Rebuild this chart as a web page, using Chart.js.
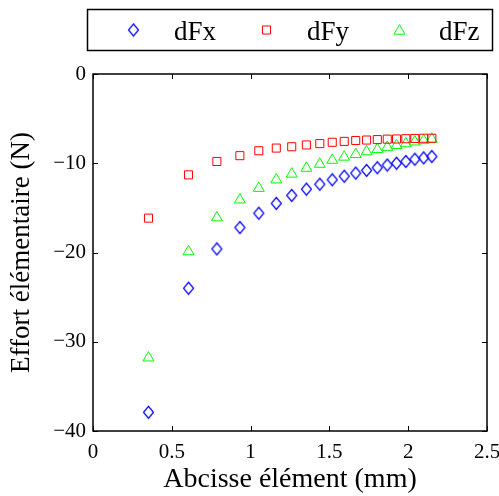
<!DOCTYPE html>
<html>
<head>
<meta charset="utf-8">
<script src="https://cdn.jsdelivr.net/npm/chart.js@4/dist/chart.umd.min.js"></script>
<style>
  html, body { margin: 0; padding: 0; background: #fff; }
  #wrap { position: relative; width: 499px; height: 496px; }
</style>
</head>
<body>
<div id="wrap"><canvas id="forceChart" width="499" height="496"></canvas></div>
<script>
// Data
const abscissa = [0.352, 0.606, 0.786, 0.932, 1.052, 1.163, 1.261, 1.354, 1.439, 1.518,
                  1.594, 1.667, 1.736, 1.804, 1.867, 1.926, 1.985, 2.042, 2.098, 2.150];
const dFx = [-37.9, -24.0, -19.6, -17.2, -15.6, -14.5, -13.6, -12.9, -12.35, -11.85,
             -11.45, -11.1, -10.8, -10.5, -10.2, -10.0, -9.8, -9.55, -9.4, -9.25];
const dFy = [-16.15, -11.3, -9.8, -9.15, -8.6, -8.3, -8.15, -7.95, -7.8, -7.65,
             -7.55, -7.45, -7.4, -7.35, -7.3, -7.28, -7.25, -7.22, -7.2, -7.2];
const dFz = [-31.8, -19.9, -16.1, -14.1, -12.8, -11.85, -11.2, -10.55, -10.1, -9.65,
             -9.3, -9.0, -8.7, -8.45, -8.2, -8.0, -7.8, -7.6, -7.45, -7.3];
const xTicks = [0, 0.5, 1, 1.5, 2, 2.5];
const yTicks = [-40, -30, -20, -10, 0];

const serif = "'Liberation Serif', 'Times New Roman', serif";

function toPoints(ys) {
    return abscissa.map((x, i) => ({ x: x, y: ys[i] }));
}

// open diamond, a bit taller than wide like the original markers
function makeDiamond(color) {
    const c = document.createElement('canvas');
    c.width = 13; c.height = 15;
    const g = c.getContext('2d');
    g.strokeStyle = color;
    g.lineWidth = 1.2;
    g.beginPath();
    g.moveTo(6.5, 1.5); g.lineTo(11.5, 7.5); g.lineTo(6.5, 13.5); g.lineTo(1.5, 7.5);
    g.closePath();
    g.stroke();
    return c;
}

// Box around the plot with inward ticks, matlab style
const frameTicks = {
    id: 'frameTicks',
    afterDraw(chart) {
        const ctx = chart.ctx;
        const a = chart.chartArea;
        const xs = chart.scales.x;
        const ys = chart.scales.y;
        const len = 5;
        ctx.save();
        ctx.strokeStyle = '#000';
        ctx.lineWidth = 1.5;
        ctx.strokeRect(a.left, a.top, a.right - a.left, a.bottom - a.top);
        ctx.lineWidth = 1;
        ctx.beginPath();
        xTicks.forEach(v => {
            const px = Math.round(xs.getPixelForValue(v)) + 0.5;
            ctx.moveTo(px, a.bottom); ctx.lineTo(px, a.bottom - len);
            ctx.moveTo(px, a.top); ctx.lineTo(px, a.top + len);
        });
        yTicks.forEach(v => {
            const py = Math.round(ys.getPixelForValue(v)) + 0.5;
            ctx.moveTo(a.left, py); ctx.lineTo(a.left + len, py);
            ctx.moveTo(a.right, py); ctx.lineTo(a.right - len, py);
        });
        ctx.stroke();
        ctx.restore();
    }
};

// Legend in a box above the plot
const boxLegend = {
    id: 'boxLegend',
    afterDraw(chart) {
        const ctx = chart.ctx;
        const box = { left: 87.5, top: 9.5, width: 405, height: 41 };
        const markerX = [133.5, 266.5, 399.5];
        const textX = [174, 307, 439];
        const cy = 30;
        ctx.save();
        ctx.strokeStyle = '#000';
        ctx.lineWidth = 1.5;
        ctx.strokeRect(box.left, box.top, box.width, box.height);
        chart.data.datasets.forEach((ds, i) => {
            ctx.fillStyle = 'rgba(0,0,0,0)';
            ctx.strokeStyle = ds.borderColor;
            ctx.lineWidth = 1;
            Chart.helpers.drawPoint(ctx, {
                pointStyle: ds.pointStyle,
                radius: ds.pointRadius,
                borderWidth: 1,
                rotation: 0
            }, markerX[i], cy + (ds.pointStyle === 'triangle' ? 1 : 0));
            ctx.fillStyle = '#000';
            ctx.font = '27px ' + serif;
            ctx.textBaseline = 'alphabetic';
            ctx.fillText(ds.label, textX[i], 39.5);
        });
        ctx.restore();
    }
};

const tickFont = { family: serif, size: 21 };

new Chart(document.getElementById('forceChart'), {
    type: 'scatter',
    data: {
        datasets: [
            { label: 'dFx', data: toPoints(dFx), pointStyle: makeDiamond('#0000ff'), pointRadius: 6,
              borderColor: '#0000ff', backgroundColor: 'rgba(0,0,0,0)', borderWidth: 1 },
            { label: 'dFy', data: toPoints(dFy), pointStyle: 'rect', pointRadius: 5.7,
              borderColor: '#ff0000', backgroundColor: 'rgba(0,0,0,0)', borderWidth: 1 },
            { label: 'dFz', data: toPoints(dFz), pointStyle: 'triangle', pointRadius: 6.3,
              borderColor: '#00ff00', backgroundColor: 'rgba(0,0,0,0)', borderWidth: 1 }
        ]
    },
    options: {
        responsive: false,
        animation: false,
        events: [],
        layout: { padding: { left: 0, right: 12, top: 74, bottom: 0 } },
        plugins: { legend: { display: false }, tooltip: { enabled: false } },
        scales: {
            x: {
                type: 'linear', min: 0, max: 2.5,
                grid: { display: false, drawTicks: false },
                border: { display: false },
                afterBuildTicks: s => { s.ticks = xTicks.map(v => ({ value: v })); },
                afterFit: s => { s.height = 65; s.paddingLeft = 0; s.paddingRight = 0; },
                ticks: { color: '#000', font: tickFont, padding: 9, maxRotation: 0,
                         callback: v => String(v) },
                title: { display: true, text: 'Abcisse élément (mm)', color: '#000',
                         font: { family: serif, size: 28 }, padding: { top: 0, bottom: 0 } }
            },
            y: {
                type: 'linear', min: -40, max: 0,
                grid: { display: false, drawTicks: false },
                border: { display: false },
                afterBuildTicks: s => { s.ticks = yTicks.map(v => ({ value: v })); },
                afterFit: s => { s.width = 93; },
                ticks: { color: '#000', font: tickFont, padding: 7,
                         callback: v => String(v).replace('-', '\u2212') },
                title: { display: true, text: 'Effort élémentaire (N)', color: '#000',
                         font: { family: serif, size: 27 }, padding: { top: 6, bottom: 0 } }
            }
        }
    },
    plugins: [frameTicks, boxLegend]
});
</script>
</body>
</html>
